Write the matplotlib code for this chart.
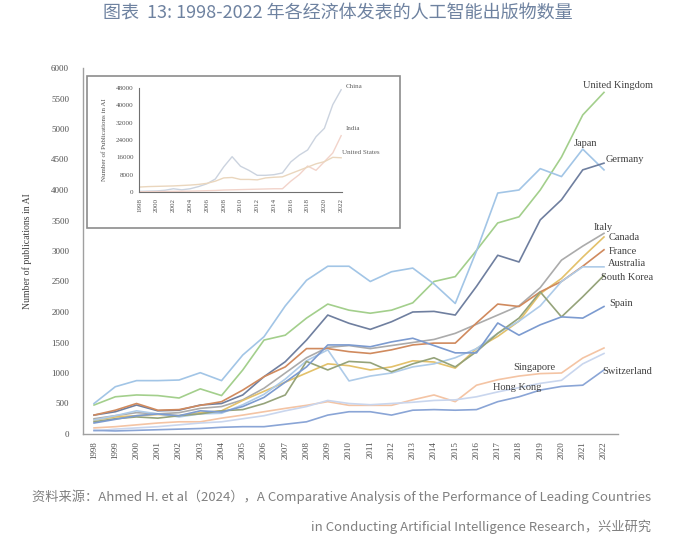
import numpy as np
import matplotlib.pyplot as plt
from matplotlib.patches import Rectangle

plt.rcParams['font.family'] = ['Noto Sans CJK SC', 'DejaVu Sans']
SERIF = ['Liberation Serif', 'DejaVu Serif']

years = list(range(1998, 2023))

# main chart (publications per economy)
uk = [475, 610, 640, 630, 590, 740, 630, 1050, 1540, 1620, 1900, 2130, 2030, 1980, 2030,
      2150, 2500, 2580, 3010, 3460, 3560, 4000, 4540, 5230, 5600]
japan = [500, 775, 875, 875, 885, 1005, 875, 1295, 1595, 2100, 2520, 2750, 2750, 2500, 2660,
         2720, 2460, 2140, 3000, 3950, 4000, 4350, 4220, 4670, 4330]
germany = [310, 365, 475, 380, 390, 475, 500, 640, 940, 1185, 1540, 1950, 1815, 1715, 1840,
           2000, 2010, 1950, 2420, 2930, 2820, 3510, 3840, 4330, 4440]
italy = [250, 300, 350, 330, 350, 420, 450, 560, 750, 1000, 1250, 1420, 1450, 1400, 1450,
         1500, 1550, 1650, 1800, 1950, 2100, 2400, 2850, 3080, 3290]
canada = [230, 280, 300, 320, 300, 350, 380, 550, 700, 850, 1000, 1150, 1120, 1050, 1100,
          1200, 1180, 1080, 1400, 1600, 1850, 2300, 2550, 2900, 3230]
france = [310, 390, 500, 390, 400, 470, 530, 720, 940, 1100, 1400, 1400, 1350, 1320, 1380,
          1460, 1490, 1490, 1820, 2130, 2090, 2330, 2500, 2750, 3020]
australia = [230, 300, 380, 330, 280, 330, 340, 480, 650, 900, 1200, 1380, 870, 950, 1000,
             1100, 1150, 1250, 1400, 1650, 1850, 2100, 2500, 2740, 2740]
south_korea = [200, 250, 280, 260, 300, 330, 380, 400, 500, 640, 1190, 1050, 1190, 1170, 1020,
               1150, 1250, 1100, 1350, 1650, 1900, 2330, 1920, 2250, 2600]
spain = [180, 240, 300, 330, 300, 380, 360, 450, 600, 850, 1100, 1460, 1460, 1430, 1510,
         1570, 1450, 1330, 1330, 1820, 1620, 1790, 1920, 1900, 2090]
singapore = [100, 120, 150, 180, 200, 200, 260, 310, 365, 420, 470, 530, 470, 470, 470,
             560, 640, 530, 800, 890, 950, 990, 1000, 1245, 1410]
hong_kong = [50, 80, 100, 120, 150, 180, 200, 250, 300, 380, 450, 550, 500, 480, 500,
             520, 550, 560, 610, 690, 760, 830, 880, 1150, 1320]
switzerland = [60, 50, 60, 70, 80, 90, 110, 120, 120, 160, 200, 310, 365, 365, 310,
               390, 400, 390, 400, 530, 610, 720, 780, 800, 1050]

# inset (large producers)
china = [300, 400, 500, 800, 1500, 1000, 1500, 2500, 3800, 6000, 11600, 16300, 11900, 10000, 7700,
         7700, 8000, 8800, 13900, 17000, 19400, 25500, 29400, 40300, 47200]
usa = [2300, 2500, 2600, 2700, 2800, 3000, 3200, 3500, 4000, 5000, 6500, 6700, 5800, 5800, 5600,
       6500, 6800, 7000, 8500, 10000, 11500, 13000, 14000, 16000, 15800]
india = [100, 150, 200, 250, 300, 350, 400, 500, 600, 700, 900, 1000, 1100, 1200, 1300,
         1400, 1500, 1500, 5000, 8000, 12000, 10000, 14000, 18000, 26000]

series = [
    ('United Kingdom', uk, '#a3cf8c', (583, 85)),
    ('Japan', japan, '#a2c5e6', (574, 143)),
    ('Germany', germany, '#6f7f9f', (606, 160)),
    ('Italy', italy, '#ababab', (594, 227)),
    ('Canada', canada, '#e3c16a', (609, 237)),
    ('France', france, '#d08a5e', (609, 251)),
    ('Australia', australia, '#aecbe8', (608, 264)),
    ('South Korea', south_korea, '#95a37a', (601, 278)),
    ('Spain', spain, '#7c9bd0', (609, 304)),
    ('Singapore', singapore, '#f4c4a4', (513, 368)),
    ('Hong Kong', hong_kong, '#c9d6ee', (493, 388)),
    ('Switzerland', switzerland, '#8aa5d6', (602, 372)),
]

W, H = 700, 560
fig = plt.figure(figsize=(7, 5.6), dpi=100)


def fx(px):
    return px / W


def fy(py):
    return 1 - py / H


fig.text(fx(338), fy(14), '图表  13: 1998-2022 年各经济体发表的人工智能出版物数量',
         ha='center', va='center', fontsize=13, color='#6e82a0', fontweight='medium')

ax = fig.add_axes([fx(83), fy(434), fx(618 - 83), (434 - 68) / H])
for name, vals, col, pos in series:
    ax.plot(years, vals, color=col, lw=1.2)
    fig.text(fx(pos[0]), fy(pos[1]), name, ha='left', va='center', fontsize=7.5,
             family=SERIF, color='#404040')

ax.set_xlim(1997.48, 2022.66)
ax.set_ylim(0, 6000)
ax.set_yticks(range(0, 6001, 500))
ax.set_xticks(years)
ax.set_xticklabels([str(y) for y in years], rotation=90, family=SERIF, fontsize=6.5, color='#505050')
ax.set_yticklabels([str(v) for v in range(0, 6001, 500)], family=SERIF, fontsize=6.5, color='#505050')
ax.tick_params(length=0)
ax.tick_params(axis='y', pad=10)
ax.tick_params(axis='x', pad=5)
for s in ['top', 'right']:
    ax.spines[s].set_visible(False)
for s in ['left', 'bottom']:
    ax.spines[s].set_color('#a0a0a0')
    ax.spines[s].set_linewidth(1.0)
ax.set_ylabel('Number of publications in AI', family=SERIF, fontsize=7, color='#404040', labelpad=14)

# inset frame
fig.patches.append(Rectangle((fx(87), fy(228)), fx(400 - 87), (228 - 76) / H,
                             transform=fig.transFigure, fill=True, facecolor='white',
                             edgecolor='#8c8c8c', lw=1.2, zorder=2))

ins = fig.add_axes([fx(139), fy(192), fx(342 - 139), (192 - 88) / H], zorder=3)
ins.patch.set_alpha(0)
ins.plot(years, china, color='#cbd3df', lw=1.0)
ins.plot(years, india, color='#f2d3ca', lw=1.0)
ins.plot(years, usa, color='#ead6bd', lw=1.0)
ins.set_xlim(1997.9, 2022.1)
ins.set_ylim(0, 48000)
ins.set_yticks(range(0, 48001, 8000))
ins.set_yticklabels([str(v) for v in range(0, 48001, 8000)], family=SERIF, fontsize=5, color='#505050')
ins_years = list(range(1998, 2023, 2))
ins.set_xticks(ins_years)
ins.set_xticklabels([str(y) for y in ins_years], rotation=90, family=SERIF, fontsize=5, color='#505050')
ins.tick_params(length=0, pad=4)
for s in ['top', 'right']:
    ins.spines[s].set_visible(False)
for s in ['left', 'bottom']:
    ins.spines[s].set_color('#707070')
    ins.spines[s].set_linewidth(0.8)
ins.set_ylabel('Number of Publications in AI', family=SERIF, fontsize=5, color='#505050', labelpad=6)
for name, py in [('China', 87), ('India', 128), ('United States', 153)]:
    fig.text(fx(346 if name != 'United States' else 342), fy(py), name, ha='left', va='center',
             fontsize=5, family=SERIF, color='#606060', zorder=4)

src_col = '#808080'
fig.text(fx(651), fy(497),
         '资料来源：Ahmed H. et al（2024），A Comparative Analysis of the Performance of Leading Countries',
         ha='right', va='center', fontsize=9.5, color=src_col)
fig.text(fx(651), fy(527),
         'in Conducting Artificial Intelligence Research，兴业研究',
         ha='right', va='center', fontsize=9.5, color=src_col)

fig.savefig('out.png', dpi=100)
